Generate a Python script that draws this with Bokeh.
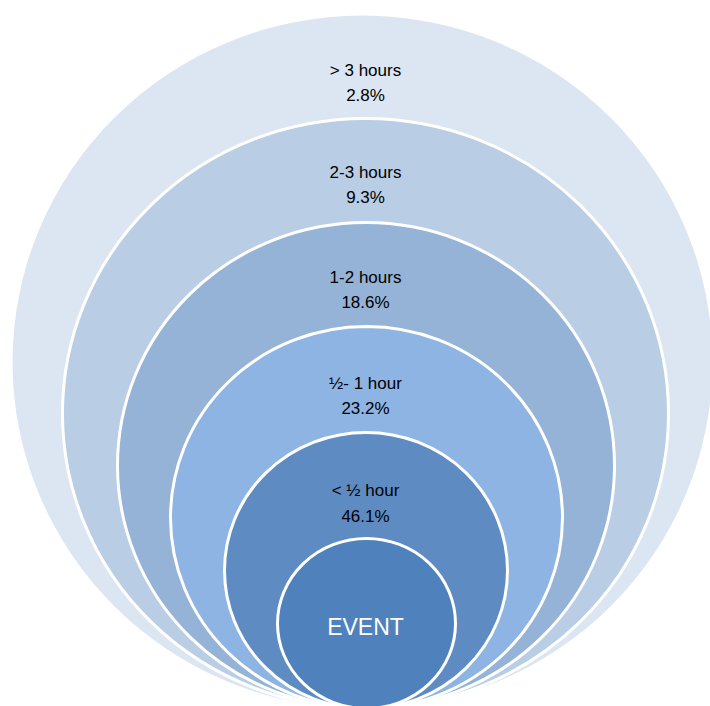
from bokeh.plotting import figure
from bokeh.models import Range1d, ColumnDataSource
from bokeh.core.properties import value
from bokeh.embed import file_html
from bokeh.resources import INLINE

# ---- data ----
categories = ["> 3 hours", "2-3 hours", "1-2 hours", "\u00bd- 1 hour", "< \u00bd hour"]
percent = [2.8, 9.3, 18.6, 23.2, 46.1]
center_label = "EVENT"

# ---- layout (pixels, top-left origin) ----
W, H = 710, 706
cx = 365
bottom = 708
ring_cx = [362, 365, 365.5, 366, 365.5, 366]
ring_widths = [700, 606, 497, 392, 283, 178]
ring_tops = [15, 118, 222, 326, 432, 538]
colors = ["#DCE6F2", "#B9CDE5", "#95B3D7", "#8EB4E3", "#5F8BC3", "#4F81BD"]
label_y = [70, 172, 277, 383, 490]
pct_y = [95, 197, 302, 408, 516]

p = figure(width=W, height=H, x_range=Range1d(0, W), y_range=Range1d(0, H),
           output_backend="svg", toolbar_location=None, min_border=0)
p.axis.visible = False
p.grid.visible = False
p.outline_line_color = None
p.background_fill_color = "white"
p.border_fill_color = "white"

heights = [bottom - t for t in ring_tops]
ys = [H - (bottom - h / 2) for h in heights]
src = ColumnDataSource(dict(x=ring_cx, y=ys, w=ring_widths, h=heights, c=colors,
                            lc=[None] + ["white"] * 5))
p.ellipse(x="x", y="y", width="w", height="h", fill_color="c", line_color="lc",
          line_width=3, source=src)

lab_src = ColumnDataSource(dict(x=[cx] * 5, y=[H - v for v in label_y], t=categories))
p.text(x="x", y="y", text="t", source=lab_src, text_align="center", text_baseline="middle",
       text_font=value("Liberation Sans"), text_font_size="17px", text_color="black")
pct_src = ColumnDataSource(dict(x=[cx] * 5, y=[H - v for v in pct_y],
                                t=[f"{v}%" for v in percent]))
p.text(x="x", y="y", text="t", source=pct_src, text_align="center", text_baseline="middle",
       text_font=value("Liberation Sans"), text_font_size="17px", text_color="black")

p.text(x=[cx], y=[H - 626], text=[center_label], text_align="center", text_baseline="middle",
       text_font=value("Liberation Sans"), text_font_size="23px", text_color="white")

open("out.html", "w").write(file_html(p, INLINE))
